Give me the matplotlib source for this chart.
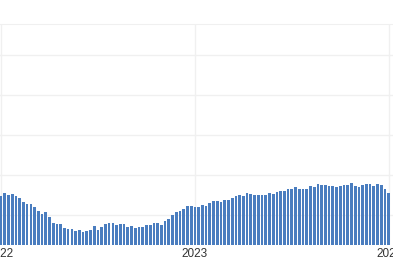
import numpy as np, pandas as pd
import matplotlib; matplotlib.use("Agg"); import matplotlib.pyplot as plt
import matplotlib.dates as mdates

# weekly values (arbitrary units, gridlines every 10)
vals_2022 = [14.75, 15.5, 15.0, 15.2, 14.75, 14.2, 13.3, 12.75, 12.75, 12.0, 11.0, 10.3, 10.75, 9.5,
             8.1, 7.8, 7.7, 6.8, 6.4, 6.6, 5.9, 6.2, 5.75, 5.9, 6.25, 7.2, 6.25,
             6.9, 7.7, 7.9, 7.9, 7.5, 7.7, 7.7, 7.1, 7.25, 6.8, 7.1, 7.1, 7.5,
             7.5, 8.0, 8.0, 7.5, 8.6, 9.0, 10.1, 10.8, 11.1, 11.6, 12.2, 12.2]
vals_2023 = [11.9, 11.9, 12.5, 12.25, 13.1, 13.4, 13.4, 13.25, 13.75, 13.75, 14.2, 14.75, 14.9,
             14.75, 15.6, 15.25, 14.9, 14.9, 14.9, 14.9, 15.6, 15.2, 15.8, 16.1, 16.1, 16.4,
             16.4, 16.9, 16.4, 16.6, 16.6, 17.3, 17.1, 17.75, 17.5, 17.6, 17.2, 17.2, 17.0,
             17.25, 17.6, 17.6, 17.9, 17.25, 17.1, 17.6, 17.75, 17.75, 17.3, 17.75, 17.6, 16.4, 15.6]
values = vals_2022 + vals_2023
weeks = pd.date_range("2022-01-02", periods=len(values), freq="7D")
year_ticks = pd.to_datetime(["2022-01-01", "2023-01-01", "2024-01-01"])
year_labels = ["2022", "2023", "2024"]

fig = plt.figure(figsize=(3.93, 2.67), dpi=100)
ax = fig.add_axes([0, 22/267, 1, (245-24)/267])
ax.bar(weeks, values, width=5, color="#4a7dbf", zorder=2)
ax.set_xlim(pd.Timestamp("2021-12-31"), pd.Timestamp("2024-01-08"))
ax.set_ylim(2.5, 57.75)
ax.set_yticks([10, 20, 30, 40, 50])
ax.set_xticks(year_ticks)
ax.set_xticklabels(year_labels, fontsize=8.5, color="#333333", family="Liberation Sans")
ax.tick_params(length=0, pad=2)
ax.tick_params(axis="y", labelleft=False)
ax.grid(True, color="#f0f0f0", lw=1, zorder=0)
for s in ["left", "right", "bottom"]:
    ax.spines[s].set_visible(False)
ax.spines["top"].set_color("#f0f0f0")
fig.savefig("out.png", dpi=100)
